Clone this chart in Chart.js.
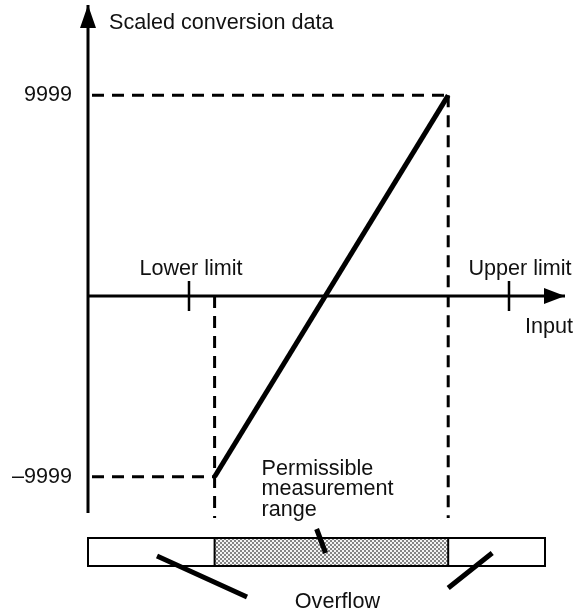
<!DOCTYPE html>
<html>
<head>
<meta charset="utf-8">
<script src="https://cdn.jsdelivr.net/npm/chart.js@4.4.1/dist/chart.umd.min.js"></script>
<style>
  html, body { margin: 0; padding: 0; background: #fff; }
  #wrap { width: 577px; height: 614px; position: relative; }
</style>
</head>
<body>
<div id="wrap"><canvas id="c"></canvas></div>
<script>
// Input values where the scaling limits sit (lower, upper)
const inputLimits = [0, 100];
const limitLabels = ['Lower limit', 'Upper limit'];
// Input span that converts without overflow
const permissibleRange = [8, 81];
// Scaled output at the two ends of the permissible range
const scaledRange = [-9999, 9999];
const yTickLabels = ['\u20139999', '9999'];
// Level of the scaled axis where the input axis crosses it
const inputAxisLevel = -520;

// Scale windows
const xScaleMin = -31.5625, xScaleMax = 121.25;
const yScaleMin = -17200, yScaleMax = 15000;
// Axis extents (input axis arrow tip, scaled axis bottom/tip) and guide bottom
const inputAxisTip = 117.5;
const scaledAxisBottom = -11900, scaledAxisTip = 14740;
const guideBottom = -12170;
const guideStart = xScaleMin + 1.25;

const FONT = '"Liberation Sans", Arial, Helvetica, sans-serif';
const FONT_SIZE = 21.6;
const INK = '#111';

function seg(points, extra) {
  return Object.assign({
    data: points, showLine: true, borderColor: '#000', backgroundColor: '#000',
    pointRadius: 0, pointHoverRadius: 0, fill: false, tension: 0,
    clip: false, borderCapStyle: 'butt', borderJoinStyle: 'miter'
  }, extra);
}

const dash = { borderWidth: 3, borderDash: [12, 8] };

const datasets = [
  // conversion characteristic
  seg([{ x: permissibleRange[0], y: scaledRange[0] },
       { x: permissibleRange[1], y: scaledRange[1] }], { borderWidth: 5 }),
  // dashed guides
  seg([{ x: guideStart, y: scaledRange[1] }, { x: permissibleRange[1], y: scaledRange[1] }], dash),
  seg([{ x: guideStart, y: scaledRange[0] }, { x: permissibleRange[0], y: scaledRange[0] }], dash),
  seg([{ x: permissibleRange[1], y: scaledRange[1] }, { x: permissibleRange[1], y: guideBottom }], dash),
  seg([{ x: permissibleRange[0], y: inputAxisLevel }, { x: permissibleRange[0], y: guideBottom }], dash),
  // axes
  seg([{ x: xScaleMin, y: scaledAxisBottom }, { x: xScaleMin, y: scaledAxisTip }], { borderWidth: 3 }),
  seg([{ x: xScaleMin, y: inputAxisLevel }, { x: inputAxisTip, y: inputAxisLevel }], { borderWidth: 3 })
];
// limit ticks on the input axis
inputLimits.forEach(v => {
  datasets.push(seg([{ x: v, y: inputAxisLevel + 790 }, { x: v, y: inputAxisLevel - 790 }], { borderWidth: 2.5 }));
});

// fine dotted screen for the permissible part of the band
function stipple(ctx) {
  const t = document.createElement('canvas');
  t.width = 4; t.height = 4;
  const g = t.getContext('2d');
  g.fillStyle = '#858585'; g.fillRect(0, 0, 4, 4);
  g.fillStyle = '#f4f4f4'; g.fillRect(0, 0, 2, 2); g.fillRect(2, 2, 2, 2);
  return ctx.createPattern(t, 'repeat');
}

const diagramPlugin = {
  id: 'diagram',
  afterDraw(chart) {
    const ctx = chart.ctx;
    const xs = chart.scales.x, ys = chart.scales.y;
    const ax = xs.getPixelForValue(xScaleMin);
    const ay = ys.getPixelForValue(inputAxisLevel);
    ctx.save();

    // arrowheads
    ctx.fillStyle = '#000';
    const yTip = ys.getPixelForValue(scaledAxisTip);
    ctx.beginPath();
    ctx.moveTo(ax, yTip); ctx.lineTo(ax - 8, yTip + 23); ctx.lineTo(ax + 8, yTip + 23);
    ctx.closePath(); ctx.fill();
    const xTip = xs.getPixelForValue(inputAxisTip);
    ctx.beginPath();
    ctx.moveTo(xTip, ay); ctx.lineTo(xTip - 21, ay - 8); ctx.lineTo(xTip - 21, ay + 8);
    ctx.closePath(); ctx.fill();

    // range band
    const pL = xs.getPixelForValue(permissibleRange[0]);
    const pR = xs.getPixelForValue(permissibleRange[1]);
    const bandR = xTip - 20;
    const bandTop = 538, bandH = 28;
    ctx.fillStyle = '#fff';
    ctx.fillRect(ax, bandTop, bandR - ax, bandH);
    ctx.fillStyle = stipple(ctx);
    ctx.fillRect(pL, bandTop, pR - pL, bandH);
    ctx.strokeStyle = '#000'; ctx.lineWidth = 2;
    ctx.strokeRect(ax, bandTop, bandR - ax, bandH);
    ctx.beginPath();
    ctx.moveTo(pL, bandTop); ctx.lineTo(pL, bandTop + bandH);
    ctx.moveTo(pR, bandTop); ctx.lineTo(pR, bandTop + bandH);
    ctx.stroke();

    // leader lines
    ctx.lineWidth = 5; ctx.lineCap = 'butt';
    const leaders = [
      [[pL + 102, 529], [pL + 111, 553]],
      [[ax + 69, 556], [ax + 159, 597]],
      [[pR, 588], [pR + 44, 553]]
    ];
    ctx.beginPath();
    leaders.forEach(([a, b]) => { ctx.moveTo(a[0], a[1]); ctx.lineTo(b[0], b[1]); });
    ctx.stroke();

    // text
    ctx.fillStyle = INK;
    ctx.font = FONT_SIZE + 'px ' + FONT;
    ctx.textBaseline = 'middle';
    ctx.textAlign = 'left';
    ctx.fillText('Scaled conversion data', ax + 21, 23);
    ctx.textAlign = 'center';
    ctx.fillText(limitLabels[0], xs.getPixelForValue(inputLimits[0]) + 2, ay - 27);
    ctx.fillText(limitLabels[1], xs.getPixelForValue(inputLimits[1]) + 11, ay - 27);
    ctx.textAlign = 'right';
    ctx.fillText('Input', xTip + 8, ay + 31);
    ctx.textAlign = 'left';
    ['Permissible', 'measurement', 'range'].forEach((t, i) => {
      ctx.fillText(t, pL + 47, 469 + i * 20.5);
    });
    ctx.textAlign = 'center';
    ctx.fillText('Overflow', (pL + pR) / 2 + 6, 602);
    ctx.restore();
  }
};

new Chart(document.getElementById('c'), {
  type: 'scatter',
  data: { datasets },
  options: {
    responsive: true,
    maintainAspectRatio: false,
    animation: false,
    devicePixelRatio: 1,
    layout: { padding: 0, autoPadding: false },
    plugins: { legend: { display: false }, tooltip: { enabled: false } },
    events: [],
    scales: {
      x: { type: 'linear', display: false, min: xScaleMin, max: xScaleMax },
      y: {
        type: 'linear', position: 'left', min: yScaleMin, max: yScaleMax,
        afterFit(s) {
          s.width = 88;
          s.paddingTop = 0; s.paddingBottom = 0; s.paddingLeft = 0; s.paddingRight = 0;
        },
        afterBuildTicks(s) { s.ticks = scaledRange.map(v => ({ value: v })); },
        grid: { display: false, drawTicks: false },
        border: { display: false },
        ticks: {
          padding: 16, color: INK, autoSkip: false,
          font: { family: FONT, size: FONT_SIZE },
          callback: v => yTickLabels[scaledRange.indexOf(v)]
        }
      }
    }
  },
  plugins: [diagramPlugin]
});
</script>
</body>
</html>
